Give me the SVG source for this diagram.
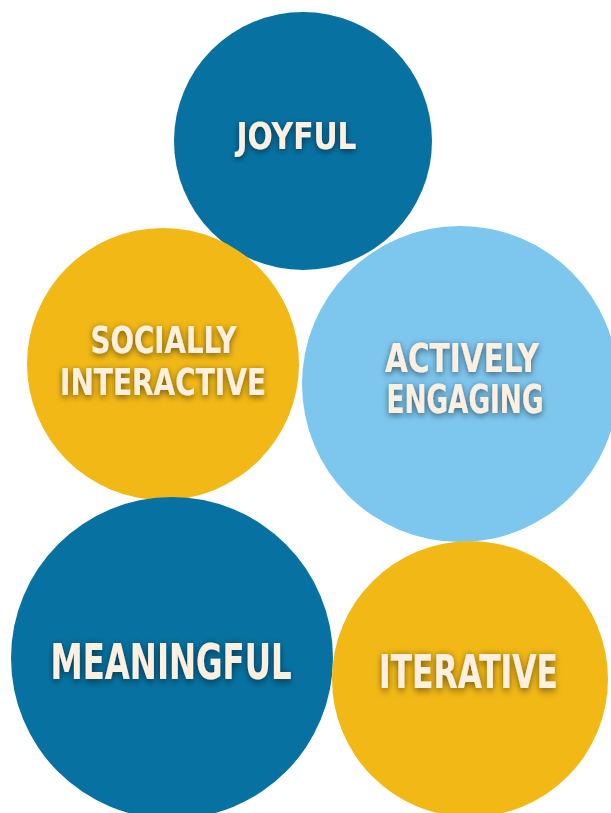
<svg xmlns="http://www.w3.org/2000/svg" width="611" height="813" viewBox="0 0 611 813">
<defs>
<filter id="sh" x="-20%" y="-50%" width="140%" height="200%">
<feGaussianBlur in="SourceAlpha" stdDeviation="3"/>
<feOffset dx="0" dy="1.5" result="b"/>
<feComponentTransfer in="b" result="c"><feFuncA type="linear" slope="0.55"/></feComponentTransfer>
<feMerge><feMergeNode in="c"/><feMergeNode in="SourceGraphic"/></feMerge>
</filter>
</defs>
<style>
.dark{fill:#0772a1}
.yel{fill:#f2b816}
.light{fill:#7dc6ee}
text{font-family:"DejaVu Sans Condensed","DejaVu Sans",sans-serif;font-stretch:condensed;font-weight:bold;fill:#fdf0e1;filter:url(#sh)}
</style>
<rect width="611" height="813" fill="#ffffff"/>
<g id="joyful">
<circle class="dark" cx="303" cy="141" r="129"/>
<text transform="translate(236.5,149) scale(1,1.12)" font-size="33" textLength="120" lengthAdjust="spacingAndGlyphs">JOYFUL</text>
</g>
<g id="socially-interactive">
<circle class="yel" cx="163" cy="364" r="136"/>
<text transform="translate(90.5,353) scale(1,1.215)" font-size="30.5" textLength="146" lengthAdjust="spacingAndGlyphs">SOCIALLY</text>
<text transform="translate(60,395) scale(1,1.215)" font-size="30.5" textLength="206" lengthAdjust="spacingAndGlyphs">INTERACTIVE</text>
</g>
<g id="actively-engaging">
<circle class="light" cx="460" cy="384" r="158"/>
<text transform="translate(385,371.5) scale(1,1.28)" font-size="30" textLength="154" lengthAdjust="spacingAndGlyphs">ACTIVELY</text>
<text transform="translate(386.5,412.5) scale(1,1.28)" font-size="30" textLength="157" lengthAdjust="spacingAndGlyphs">ENGAGING</text>
</g>
<g id="meaningful">
<circle class="dark" cx="172" cy="658" r="161"/>
<text transform="translate(50.5,679) scale(1,1.39)" font-size="35.5" textLength="241" lengthAdjust="spacingAndGlyphs">MEANINGFUL</text>
</g>
<g id="iterative">
<circle class="yel" cx="470" cy="679" r="138"/>
<text transform="translate(379,688) scale(1,1.37)" font-size="34" textLength="179" lengthAdjust="spacingAndGlyphs">ITERATIVE</text>
</g>
<g id="connectors"/>
</svg>
